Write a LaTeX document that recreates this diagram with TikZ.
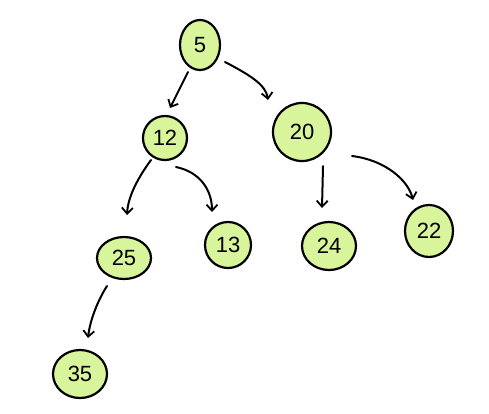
\documentclass[tikz,border=0pt]{standalone}
\usepackage{fontspec}
\setmainfont{Liberation Sans}
\usetikzlibrary{arrows.meta,calc,shapes.geometric}
\definecolor{lime}{RGB}{217,245,155}
\begin{document}
\begin{tikzpicture}[x=1pt,y=-1pt,
  nd/.style={ellipse,draw=black,line width=2.2pt,fill=lime,inner sep=0pt,font=\fontsize{22}{22}\selectfont},
  edge/.style={line width=2pt,line cap=round,-{Straight Barb[length=6pt,width=11pt,line width=1.8pt]}}]
\useasboundingbox (0,0) rectangle (489,413);
\node[nd,minimum width=40pt,minimum height=50pt] (n5) at (200,45) {5};
\node[nd,minimum width=44pt,minimum height=44pt] (n12) at (165,138) {12};
\node[nd,minimum width=58pt,minimum height=58pt] (n20) at (302,132) {20};
\node[nd,minimum width=46pt,minimum height=46pt] (n13) at (228,245) {13};
\node[nd,minimum width=54pt,minimum height=42pt] (n25) at (124,258) {25};
\node[nd,minimum width=54pt,minimum height=48pt] (n24) at (329,246) {24};
\node[nd,minimum width=48pt,minimum height=52pt] (n22) at (429,231) {22};
\node[nd,minimum width=54pt,minimum height=48pt] (n35) at (80,374) {35};
\draw[edge] ($(n5)+(-12,27)$) -- ($(n12)+(5,-30)$);
\draw[edge] ($(n5)+(25,17)$) .. controls (250,75) and (266,85) .. ($(n20)+(-34,-32)$);
\draw[edge] ($(n12)+(-14,22)$) .. controls (140,175) and (128,195) .. ($(n25)+(3,-43)$);
\draw[edge] ($(n12)+(11,29)$) .. controls (200,172) and (212,190) .. ($(n13)+(-16,-33)$);
\draw[edge] ($(n20)+(21,34)$) -- ($(n24)+(-7,-38)$);
\draw[edge] ($(n20)+(50,24)$) .. controls (385,160) and (408,180) .. ($(n22)+(-16,-31)$);
\draw[edge] ($(n25)+(-17,28)$) .. controls (98,300) and (90,320) .. ($(n35)+(8,-36)$);
\end{tikzpicture}
\end{document}
